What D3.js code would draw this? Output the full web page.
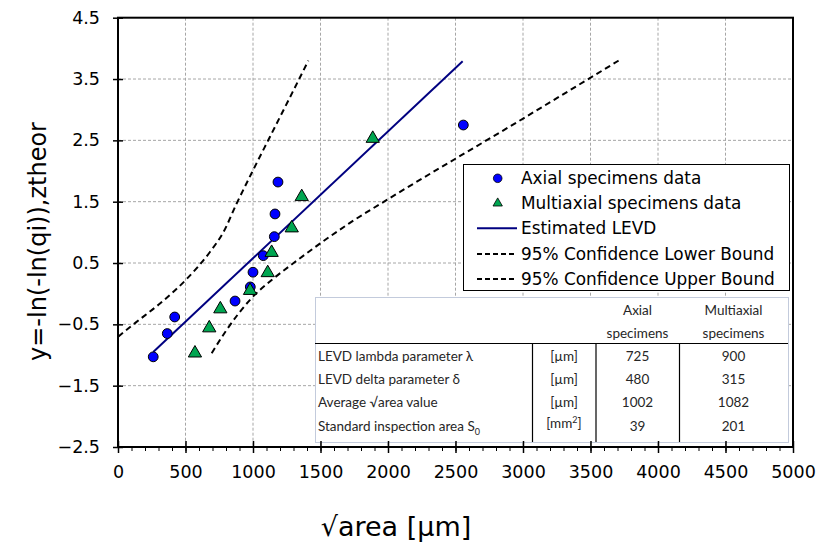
<!DOCTYPE html>
<html>
<head>
<meta charset="utf-8">
<title>LEVD plot</title>
<script src="https://d3js.org/d3.v7.min.js"></script>
<style>
  body { margin: 0; background: #fff; }
  svg { display: block; font-family: "DejaVu Sans", Verdana, sans-serif; }
  .grid line { stroke: #a6a6a6; stroke-dasharray: 3,2; }
  .tbl { font-family: Lato, "Open Sans", sans-serif; font-size: 13.5px; fill: #262626; }
</style>
</head>
<body>
<div id="chart"></div>
<script>
// data
var axialX = [261, 365, 420, 867, 980, 1000, 1076, 1158, 1163, 1185, 2558];
var axialY = [-1.03, -0.65, -0.38, -0.12, 0.11, 0.35, 0.62, 0.93, 1.30, 1.82, 2.75];
var multiX = [570, 676, 758, 978, 1109, 1138, 1287, 1361, 1887];
var multiY = [-0.97, -0.56, -0.25, 0.05, 0.34, 0.67, 1.07, 1.58, 2.53];
var levdX = [261, 2553];
var levdY = [-0.95, 3.79];
var upperX = [2, 126, 311, 509, 681, 780, 879, 1002, 1126, 1294, 1410];
var upperY = [-0.70, -0.48, -0.16, 0.24, 0.68, 1.00, 1.47, 2.02, 2.56, 3.29, 3.80];
var lowerX = [694, 805, 978, 1153, 1301, 1498, 1715, 2015, 3004, 3708];
var lowerY = [-0.97, -0.59, -0.10, 0.25, 0.50, 0.82, 1.15, 1.56, 2.86, 3.80];

var xTicks = [0, 500, 1000, 1500, 2000, 2500, 3000, 3500, 4000, 4500, 5000];
var yTicks = [-2.5, -1.5, -0.5, 0.5, 1.5, 2.5, 3.5, 4.5];

var legendLabels = ["Axial specimens data", "Multiaxial specimens data", "Estimated LEVD",
  "95% Confidence Lower Bound", "95% Confidence Upper Bound"];

var rowLabels = ["LEVD lambda parameter λ", "LEVD delta parameter δ", "Average √area value", "Standard inspection area S"];
var rowUnits = ["[µm]", "[µm]", "[µm]", "[mm"];
var axialVals = ["725", "480", "1002", "39"];
var multiVals = ["900", "315", "1082", "201"];

var W = 818, H = 543;
var pL = 118, pR = 793, pT = 17.7, pB = 447;

var svg = d3.select("#chart").append("svg").attr("width", W).attr("height", H);

var x = d3.scaleLinear().domain([0, 5000]).range([pL, pR]);
var y = d3.scaleLinear().domain([-2.5, 4.5]).range([pB, pT]);

function pts(xs, ys) { return xs.map(function (d, i) { return [d, ys[i]]; }); }

// gridlines
var grid = svg.append("g").attr("class", "grid");
grid.selectAll(".vx").data(xTicks.slice(1, -1)).enter().append("line")
  .attr("x1", function (d) { return x(d); }).attr("x2", function (d) { return x(d); })
  .attr("y1", pT).attr("y2", pB);
grid.selectAll(".hy").data(yTicks.slice(1, -1)).enter().append("line")
  .attr("x1", pL).attr("x2", pR)
  .attr("y1", function (d) { return y(d); }).attr("y2", function (d) { return y(d); });

// lines
var line = d3.line().x(function (d) { return x(d[0]); }).y(function (d) { return y(d[1]); });
var smooth = d3.line().curve(d3.curveMonotoneX).x(function (d) { return x(d[0]); }).y(function (d) { return y(d[1]); });

svg.append("path").attr("d", smooth(pts(upperX, upperY)))
  .attr("fill", "none").attr("stroke", "#000").attr("stroke-width", 2).attr("stroke-dasharray", "6,4");
svg.append("path").attr("d", smooth(pts(lowerX, lowerY)))
  .attr("fill", "none").attr("stroke", "#000").attr("stroke-width", 2).attr("stroke-dasharray", "6,4");
svg.append("path").attr("d", line(pts(levdX, levdY)))
  .attr("fill", "none").attr("stroke", "#000080").attr("stroke-width", 2);

// markers
svg.selectAll(".ax").data(pts(axialX, axialY)).enter().append("circle")
  .attr("cx", function (d) { return x(d[0]); }).attr("cy", function (d) { return y(d[1]); })
  .attr("r", 4.9).attr("fill", "#0000ff").attr("stroke", "#000").attr("stroke-width", 1);

var tri = d3.symbol().type(d3.symbolTriangle).size(76);
svg.selectAll(".mx").data(pts(multiX, multiY)).enter().append("path")
  .attr("d", tri)
  .attr("transform", function (d) { return "translate(" + x(d[0]) + "," + y(d[1]) + ")"; })
  .attr("fill", "#00a651").attr("stroke", "#000").attr("stroke-width", 1);

// legend
var lg = svg.append("g");
lg.append("rect").attr("x", 463.5).attr("y", 164.5).attr("width", 326).attr("height", 126)
  .attr("fill", "#fff").attr("stroke", "#000").attr("stroke-width", 1);
var rowY = [178.3, 203.3, 228.3, 254, 279];
lg.selectAll("text").data(legendLabels).enter().append("text")
  .attr("x", 521).attr("y", function (d, i) { return rowY[i]; }).attr("dy", "0.36em")
  .style("font-size", "16.9px").attr("fill", "#000").text(function (d) { return d; });
lg.append("circle").attr("cx", 497.7).attr("cy", rowY[0]).attr("r", 4.3)
  .attr("fill", "#0000ff").attr("stroke", "#000").attr("stroke-width", 0.8);
lg.append("path").attr("d", d3.symbol().type(d3.symbolTriangle).size(38))
  .attr("transform", "translate(497.7," + rowY[1] + ")")
  .attr("fill", "#00a651").attr("stroke", "#000").attr("stroke-width", 0.8);
lg.append("line").attr("x1", 477).attr("x2", 517).attr("y1", rowY[2]).attr("y2", rowY[2])
  .attr("stroke", "#000080").attr("stroke-width", 2);
[3, 4].forEach(function (i) {
  lg.append("line").attr("x1", 477).attr("x2", 517).attr("y1", rowY[i]).attr("y2", rowY[i])
    .attr("stroke", "#000").attr("stroke-width", 2).attr("stroke-dasharray", "5,3");
});

// table
var tb = svg.append("g").attr("class", "tbl");
tb.append("rect").attr("x", 315.5).attr("y", 297.5).attr("width", 473).attr("height", 145)
  .attr("fill", "#fff").attr("stroke", "#c3cbdc").attr("stroke-width", 1);
tb.append("line").attr("x1", 315).attr("x2", 788).attr("y1", 343.5).attr("y2", 343.5)
  .attr("stroke", "#000").attr("stroke-width", 1.2);
[532.5, 596, 679.5].forEach(function (cx) {
  tb.append("line").attr("x1", cx).attr("x2", cx).attr("y1", 343.5).attr("y2", 442)
    .attr("stroke", "#000").attr("stroke-width", 1.2);
});
var colA = 637.5, colM = 733.5;
tb.append("text").attr("x", colA).attr("y", 310.7).attr("dy", "0.35em").attr("text-anchor", "middle").text("Axial");
tb.append("text").attr("x", colA).attr("y", 333.3).attr("dy", "0.35em").attr("text-anchor", "middle").text("specimens");
tb.append("text").attr("x", colM).attr("y", 310.7).attr("dy", "0.35em").attr("text-anchor", "middle").text("Multiaxial");
tb.append("text").attr("x", colM).attr("y", 333.3).attr("dy", "0.35em").attr("text-anchor", "middle").text("specimens");

var tRowY = [356.7, 379.3, 402.7, 426.7];
rowLabels.forEach(function (lab, i) {
  var t = tb.append("text").attr("x", 318).attr("y", tRowY[i]).attr("dy", "0.35em").text(lab);
  if (i === 3) t.append("tspan").attr("dy", "4").style("font-size", "9px").text("0");
  var u = tb.append("text").attr("x", 564).attr("y", tRowY[i] - (i === 3 ? 3 : 0)).attr("dy", "0.35em")
    .attr("text-anchor", "middle").text(rowUnits[i]);
  if (i === 3) {
    u.append("tspan").attr("dy", "-5").style("font-size", "9px").text("2");
    u.append("tspan").attr("dy", "5").text("]");
  }
  tb.append("text").attr("x", colA).attr("y", tRowY[i]).attr("dy", "0.35em").attr("text-anchor", "middle").text(axialVals[i]);
  tb.append("text").attr("x", colM).attr("y", tRowY[i]).attr("dy", "0.35em").attr("text-anchor", "middle").text(multiVals[i]);
});

// frame
svg.append("rect").attr("x", pL).attr("y", pT).attr("width", pR - pL).attr("height", pB - pT)
  .attr("fill", "none").attr("stroke", "#000").attr("stroke-width", 2);

// x axis: minor ticks every 100, major every 500
var minor = d3.range(0, 5001, 100);
var gxm = svg.append("g").attr("transform", "translate(0," + pB + ")")
  .call(d3.axisBottom(x).tickValues(minor).tickSize(4).tickFormat(""));
gxm.select(".domain").remove();
gxm.selectAll("line").attr("stroke-width", 1);

var gx = svg.append("g").attr("transform", "translate(0," + pB + ")")
  .call(d3.axisBottom(x).tickValues(xTicks).tickSize(6).tickPadding(12.4).tickFormat(d3.format("d")));
gx.select(".domain").remove();
gx.selectAll("line").attr("y1", -6).attr("stroke-width", 1.5);
gx.selectAll("text").style("font-size", "17.5px").attr("fill", "#000")
  .style("font-family", "'DejaVu Sans', Verdana, sans-serif");

var gy = svg.append("g").attr("transform", "translate(" + pL + ",0)")
  .call(d3.axisLeft(y).tickValues(yTicks).tickSize(5).tickPadding(13).tickFormat(d3.format(".1f")));
gy.select(".domain").remove();
gy.selectAll("line").attr("x1", 5).attr("stroke-width", 1.5);
gy.selectAll("text").style("font-size", "17.5px").attr("fill", "#000")
  .style("font-family", "'DejaVu Sans', Verdana, sans-serif");

// axis titles
svg.append("text").attr("transform", "translate(46,241.5) rotate(-90)")
  .attr("text-anchor", "middle").style("font-size", "24px").attr("fill", "#000")
  .text("y=-ln(-ln(qi)),ztheor");
svg.append("text").attr("x", 396).attr("y", 536).attr("text-anchor", "middle")
  .style("font-size", "27px").attr("fill", "#000").text("√area [µm]");
</script>
</body>
</html>
